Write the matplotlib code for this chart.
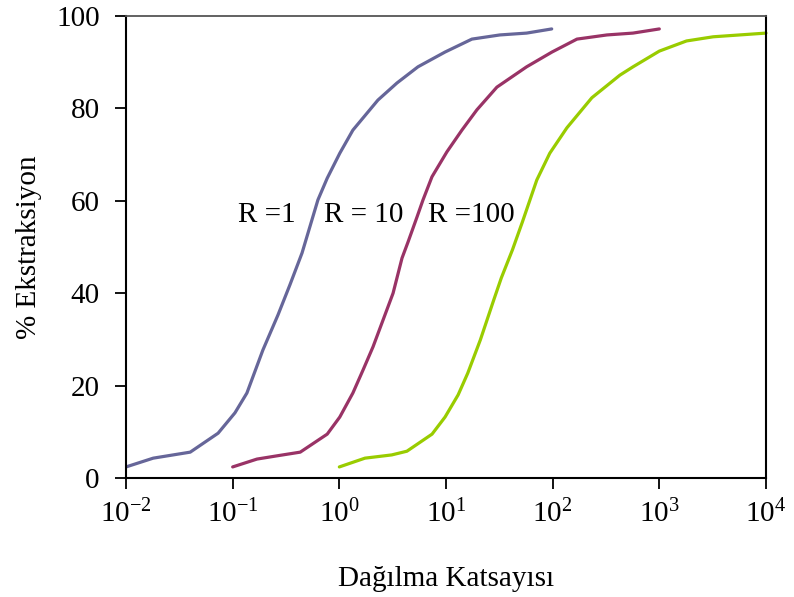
import numpy as np
import matplotlib.pyplot as plt

plt.rcParams['font.family'] = ['Liberation Serif', 'DejaVu Serif']
plt.rcParams['mathtext.fontset'] = 'custom'
plt.rcParams['mathtext.rm'] = 'Liberation Serif'

# R = 1
d_r1 = [0.01, 0.018, 0.040, 0.073, 0.105, 0.136, 0.192, 0.266, 0.344, 0.447,
        0.63, 0.77, 1.01, 1.34, 2.30, 3.47, 5.46, 9.8, 17.5, 32, 57, 98]
e_r1 = [2.4, 4.3, 5.6, 9.7, 14.1, 18.4, 27.7, 35.3, 41.8, 48.7,
        60.2, 64.9, 70.3, 75.3, 81.8, 85.5, 89.0, 92.2, 95.0, 95.9, 96.3, 97.2]

# R = 10
d_r10 = [0.1, 0.169, 0.26, 0.43, 0.77, 1.01, 1.34, 1.67, 2.07, 2.57, 3.19, 3.87,
         4.41, 5.35, 6.09, 7.39, 10.2, 14.1, 19.5, 30, 57, 98.6, 169, 323, 566, 1000]
e_r10 = [2.4, 4.1, 4.8, 5.6, 9.5, 13.2, 18.4, 23.4, 28.4, 34.2, 40.0, 47.6,
         51.1, 56.5, 60.2, 65.2, 70.6, 75.3, 79.7, 84.6, 89.0, 92.2, 95.0, 95.9, 96.3, 97.2]

# R = 100
d_r100 = [1.0, 1.74, 3.1, 4.3, 7.4, 9.8, 13, 16, 21, 28, 33, 42, 52, 71, 94,
          136, 233, 427, 567, 1000, 1800, 3200, 10000]
e_r100 = [2.4, 4.3, 5.0, 5.8, 9.5, 13.2, 18.0, 22.7, 29.9, 38.5, 43.3, 49.4, 55.4,
          64.5, 70.3, 75.8, 82.3, 87.2, 89.0, 92.4, 94.6, 95.5, 96.3]

x_ticks = [1e-2, 1e-1, 1e0, 1e1, 1e2, 1e3, 1e4]
x_tick_labels = [r'$\mathregular{10^{-2}}$', r'$\mathregular{10^{-1}}$', r'$\mathregular{10^{0}}$',
                 r'$\mathregular{10^{1}}$', r'$\mathregular{10^{2}}$', r'$\mathregular{10^{3}}$',
                 r'$\mathregular{10^{4}}$']
y_ticks = [0, 20, 40, 60, 80, 100]

fig = plt.figure(figsize=(7.94, 5.97), dpi=100)
ax = fig.add_axes([0.1587, 0.1993, 0.806, 0.7739])

ax.plot(d_r1, e_r1, color='#666699', lw=2.3, solid_capstyle='round')
ax.plot(d_r10, e_r10, color='#993366', lw=2.3, solid_capstyle='round')
ax.plot(d_r100, e_r100, color='#99CC00', lw=2.3, solid_capstyle='round', clip_on=False)

ax.set_xscale('log')
ax.set_xlim(1e-2, 1e4)
ax.set_ylim(0, 100)
ax.set_xticks(x_ticks)
ax.set_xticklabels(x_tick_labels)
ax.minorticks_off()
ax.set_yticks(y_ticks)

ax.tick_params(axis='both', direction='out', length=8, width=1.3, labelsize=21)
ax.tick_params(axis='y', pad=11)
ax.tick_params(axis='x', pad=8)

for s in ['left', 'bottom', 'right']:
    ax.spines[s].set_linewidth(1.5)
    ax.spines[s].set_color('black')
ax.spines['top'].set_linewidth(1.3)
ax.spines['top'].set_color('#555555')

ax.set_xlabel('Dağılma Katsayısı', fontsize=21, labelpad=27)
ax.set_ylabel('% Ekstraksiyon', fontsize=21, labelpad=10)

ax.text(0.112, 57, 'R =1', fontsize=21, ha='left', va='center')
ax.text(0.725, 57, 'R = 10', fontsize=21, ha='left', va='center')
ax.text(6.8, 57, 'R =100', fontsize=21, ha='left', va='center')

plt.savefig('out.png', dpi=100)
